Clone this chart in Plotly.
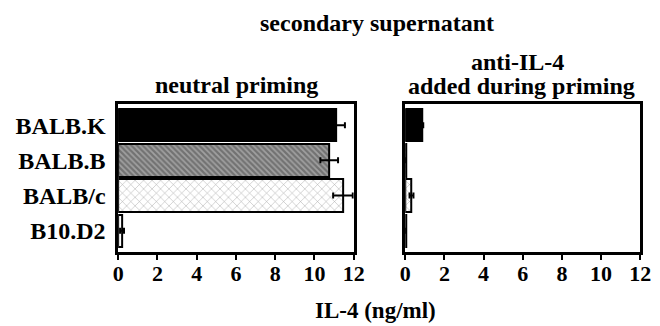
import plotly.graph_objects as go

strains = ["BALB.K", "BALB.B", "BALB/c", "B10.D2"]
neutral_vals = [11.1, 10.75, 11.45, 0.2]
neutral_err = [0.45, 0.45, 0.5, 0.1]
anti_vals = [0.87, 0.03, 0.32, 0.03]
anti_err = [0.05, 0.0, 0.1, 0.0]
x_ticks = [0, 2, 4, 6, 8, 10, 12]

FONT = "Liberation Serif"
shapes_pat = ["", "\\", "x", ""]
fg_pat = ["black", "black", "#555555", "black"]
fill = ["black", "#a0a0a0", "white", "white"]
sizes = [6, 4, 6, 6]
sol = [0.3, 0.55, 0.15, 0.3]

fig = go.Figure()
for vals, errs, xa, ya in [(neutral_vals, neutral_err, "x", "y"), (anti_vals, anti_err, "x2", "y2")]:
    fig.add_trace(go.Bar(
        y=strains, x=vals, orientation="h", xaxis=xa, yaxis=ya,
        marker=dict(color=fill, line=dict(color="black", width=2),
                    pattern=dict(shape=shapes_pat, fgcolor=fg_pat, bgcolor=fill,
                                 size=sizes, solidity=sol, fillmode="overlay")),
        error_x=dict(type="data", array=errs, color="black", thickness=2, width=3),
        width=0.92, showlegend=False,
    ))

ax_common = dict(range=[0, 12], tickvals=x_ticks, ticks="outside", ticklen=5, tickwidth=2,
                 tickcolor="black", showline=True, linecolor="black", linewidth=2.5, mirror=True,
                 showgrid=False, zeroline=False, automargin=False, ticklabelstandoff=-5,
                 tickfont=dict(family=FONT, size=22, color="black", weight="bold"))
ya_common = dict(type="category", categoryorder="array", categoryarray=strains, range=[3.6, -0.6],
                 showline=True, linecolor="black", linewidth=2.5, mirror=True, showgrid=False,
                 ticks="", domain=[0.227, 0.681], automargin=False)

fig.update_layout(
    width=660, height=326, margin=dict(l=0, r=0, t=0, b=0, autoexpand=False),
    font=dict(family=FONT, color="black"),
    paper_bgcolor="white", plot_bgcolor="white", bargap=0,
    xaxis=dict(domain=[0.179, 0.536], anchor="y", **ax_common),
    xaxis2=dict(domain=[0.614, 0.970], anchor="y2", **ax_common),
    yaxis=dict(anchor="x", tickfont=dict(family=FONT, size=24, color="black", weight="bold"),
               ticklabelstandoff=5, **ya_common),
    yaxis2=dict(anchor="x2", showticklabels=False, **ya_common),
)

def ann(text, x, y, size):
    fig.add_annotation(text="<b>" + text + "</b>", x=x / 660, y=1 - y / 326, xref="paper", yref="paper",
                       showarrow=False, xanchor="center", yanchor="middle",
                       font=dict(family=FONT, size=size, color="black"))

ann("secondary supernatant", 377, 23, 24)
ann("neutral priming", 236, 85, 24)
ann("anti-IL-4", 517, 62, 24)
ann("added during priming", 521, 86, 24)
ann("IL-4 (ng/ml)", 375, 310, 23)

fig.write_html("out.html", post_script="document.body.style.margin='0';",
               config={"displayModeBar": False})
